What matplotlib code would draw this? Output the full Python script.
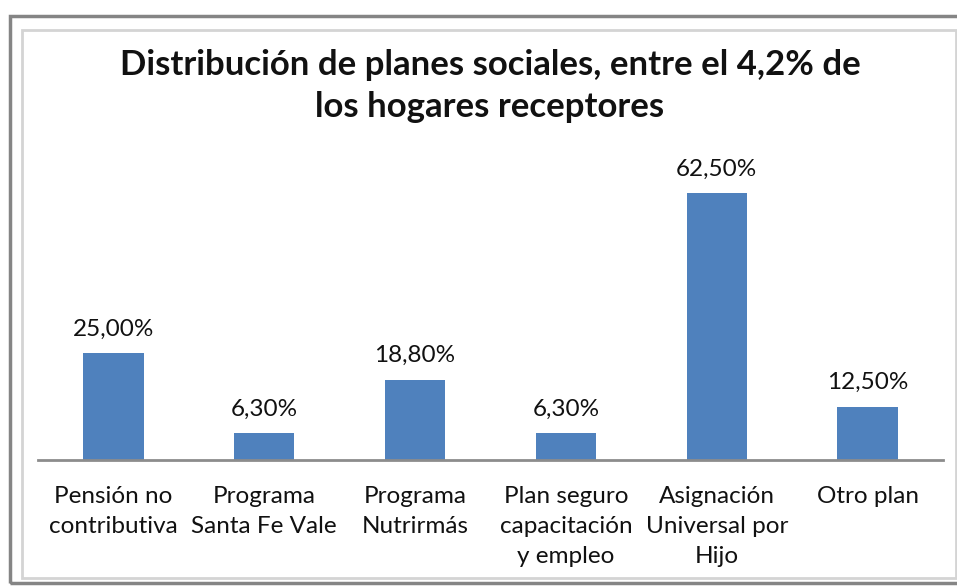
import matplotlib
matplotlib.use("Agg")
import matplotlib.pyplot as plt
from matplotlib.patches import Rectangle

# Data
categories = ["Pensión no\ncontributiva", "Programa\nSanta Fe Vale", "Programa\nNutrirmás",
              "Plan seguro\ncapacitación\ny empleo", "Asignación\nUniversal por\nHijo", "Otro plan"]
values = [25.00, 6.30, 18.80, 6.30, 62.50, 12.50]
value_labels = ["25,00%", "6,30%", "18,80%", "6,30%", "62,50%", "12,50%"]

BAR = "#4F81BD"
W, H = 957, 586

fig = plt.figure(figsize=(W / 100, H / 100), dpi=100)
fig.patch.set_facecolor("white")

def px(x0, y0, x1, y1):
    # pixel box (top-left origin) -> figure fraction rect
    return (x0 / W, 1 - y1 / H), (x1 - x0) / W, (y1 - y0) / H

# frame: outer dark line and inner light shadow
(xy, w, h) = px(10, 16, 975, 583)
fig.patches.append(Rectangle(xy, w, h, transform=fig.transFigure, fill=False,
                             edgecolor="#858585", linewidth=2.5))
(xy, w, h) = px(22, 30, 956, 578)
fig.patches.append(Rectangle(xy, w, h, transform=fig.transFigure, fill=False,
                             edgecolor="#d4d4d4", linewidth=2.0))

ax = fig.add_axes([38 / W, 1 - 460 / H, 905 / W, 299 / H])
x = range(len(categories))
ax.bar(x, values, width=0.4, color=BAR)
for xi, v, lab in zip(x, values, value_labels):
    ax.text(xi, v + 3.2, lab, ha="center", va="bottom", fontsize=17.5,
            family="Lato", color="#111111")

ax.set_xlim(-0.5, len(categories) - 0.5)
ax.set_ylim(0, 70)
ax.set_yticks([])
ax.set_xticks(list(x))
ax.set_xticklabels(categories, fontsize=17.5, family="Lato", color="#111111",
                   linespacing=1.52, va="top")
ax.tick_params(axis="x", length=0, pad=19)
for s in ["top", "right", "left"]:
    ax.spines[s].set_visible(False)
ax.spines["bottom"].set_color("#8c8c8c")
ax.spines["bottom"].set_linewidth(2)

fig.text(490 / W, 1 - 86 / H, "Distribución de planes sociales, entre el 4,2% de\nlos hogares receptores",
         ha="center", va="center", fontsize=25, fontweight="bold", family="Lato",
         linespacing=1.4, color="#111111")

fig.savefig("out.png", dpi=100, facecolor="white")
